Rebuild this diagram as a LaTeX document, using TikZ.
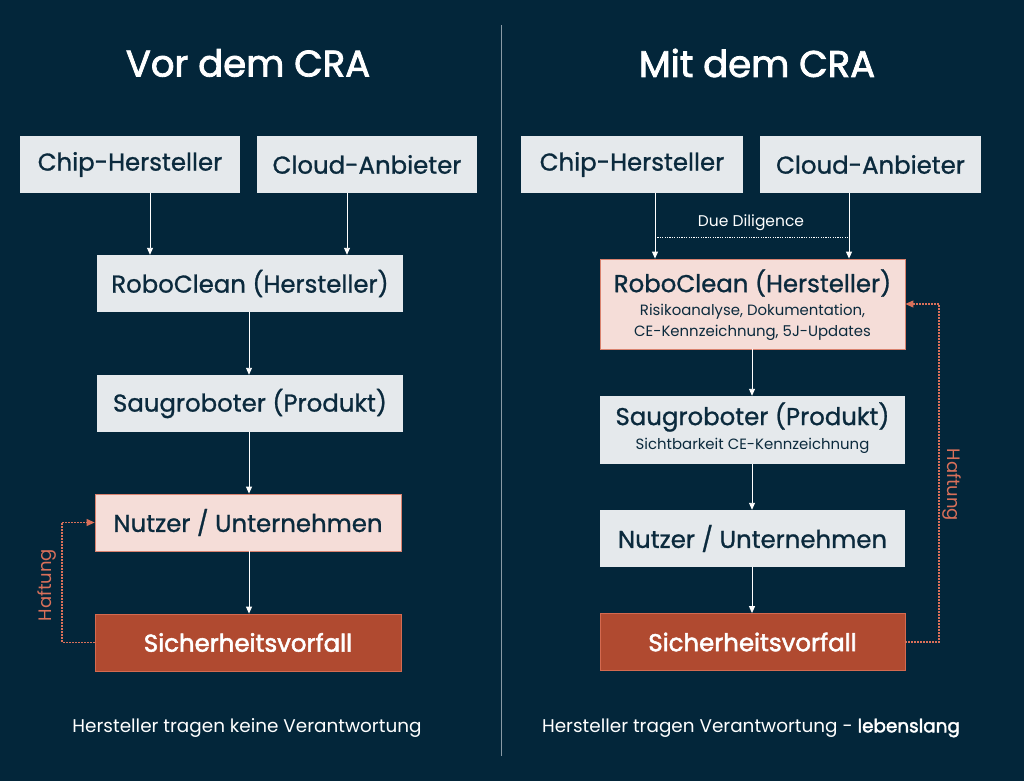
\documentclass[tikz,border=0pt]{standalone}
\usepackage{fontspec}
\setmainfont{Poppins}
\newfontfamily\medfont[FakeBold=1.0]{Poppins}
\newfontfamily\semifont[FakeBold=2.2]{Poppins}
\usetikzlibrary{arrows.meta}
\definecolor{bg}{HTML}{03263A}
\definecolor{ink}{HTML}{0B2A3D}
\definecolor{graybox}{HTML}{E5E9EC}
\definecolor{pinkbox}{HTML}{F5DDD8}
\definecolor{pinkline}{HTML}{D9826F}
\definecolor{redbox}{HTML}{B04A30}
\definecolor{redline}{HTML}{D46A50}
\definecolor{salmon}{HTML}{D9705A}
\definecolor{divider}{HTML}{8A9AA5}
\tikzset{
  box/.style={draw=none, fill=graybox, text=ink, minimum height=57pt, inner sep=0pt, font=\fontsize{24.4}{28}\medfont, align=center},
  pink/.style={box, fill=pinkbox, draw=pinkline, line width=0.8pt},
  red/.style={box, fill=redbox, draw=redline, line width=0.8pt, text=white, font=\fontsize{24.4}{28}\semifont},
  flow/.style={draw=white, line width=0.9pt, -{Triangle[length=7pt,width=6pt]}},
  haft/.style={draw=salmon, line width=1.1pt, dash pattern=on 2pt off 1pt, -{Triangle[length=8pt,width=7pt]}},
  title/.style={text=white, font=\fontsize{37}{40}\semifont},
  note/.style={text=white, font=\fontsize{18.4}{22}\selectfont},
  sub/.style={font=\fontsize{14.9}{21}\selectfont},
  bt/.style={text=ink, font=\fontsize{24.4}{28}\medfont},
  haftl/.style={text=salmon, font=\fontsize{18}{20}\selectfont},
}
\begin{document}
\begin{tikzpicture}[x=1pt,y=-1pt]
\fill[bg] (0,0) rectangle (1024,781);
\useasboundingbox (0,0) rectangle (1024,781);
\draw[divider, line width=0.8pt] (501,25) -- (501,756);

% ---------- left ----------
\node[title] (lt) at (248,63) {Vor dem CRA};
\node[box, minimum width=220pt] (lchip) at (130,164.5) {Chip-Hersteller};
\node[box, minimum width=220pt] (lcloud) at (367,164.5) {Cloud-Anbieter};
\node[box, minimum width=306pt] (lrobo) at (250,283.5) {RoboClean (Hersteller)};
\node[box, minimum width=306pt] (lsaug) at (250,403.5) {Saugroboter (Produkt)};
\node[pink, minimum width=306pt] (lnutz) at (248,522.5) {Nutzer / Unternehmen};
\node[red, minimum width=306pt] (lsich) at (248,642.5) {Sicherheitsvorfall};
\node[note] (lnote) at (247,728) {Hersteller tragen keine Verantwortung};

\draw[flow] (lchip.south -| 150,0) -- (lrobo.north -| 150,0);
\draw[flow] (lcloud.south -| 347,0) -- (lrobo.north -| 347,0);
\draw[flow] (lrobo.south -| 249,0) -- (lsaug.north -| 249,0);
\draw[flow] (lsaug.south -| 249,0) -- (lnutz.north -| 249,0);
\draw[flow] (lnutz.south -| 249,0) -- (lsich.north -| 249,0);
\coordinate (lh1) at (62,642.5);
\coordinate (lh2) at (62,522.5);
\draw[haft] (lsich.west) -- (lh1) -- (lh2) -- (lnutz.west);
\node[haftl, rotate=90] (lhl) at (47,585) {Haftung};

% ---------- right ----------
\node[title] (rt) at (757,63) {Mit dem CRA};
\node[box, minimum width=222pt] (rchip) at (632,164.5) {Chip-Hersteller};
\node[box, minimum width=221pt] (rcloud) at (870.5,164.5) {Cloud-Anbieter};
\node[pink, minimum width=305pt, minimum height=90pt] (rrobo) at (752.5,304) {};
\node[bt] (rrobot) at (752.5,283) {RoboClean (Hersteller)};
\node[text=ink, sub, align=center] (rrobos) at (752.5,322.5) {Risikoanalyse, Dokumentation,\\CE-Kennzeichnung, 5J-Updates};
\node[box, minimum width=305pt, minimum height=68pt] (rsaug) at (752.5,430) {};
\node[bt] (rsaugt) at (752.5,417) {Saugroboter (Produkt)};
\node[text=ink, sub] (rsaugs) at (752.5,446) {Sichtbarkeit CE-Kennzeichnung};
\node[box, minimum width=305pt] (rnutz) at (752.5,538.5) {Nutzer / Unternehmen};
\node[red, minimum width=305pt] (rsich) at (752.5,642) {Sicherheitsvorfall};
\node[note] (rnote) at (751,728) {Hersteller tragen Verantwortung - {\semifont lebenslang}};

\draw[flow] (rchip.south -| 655,0) -- (rrobo.north -| 655,0);
\draw[flow] (rcloud.south -| 849,0) -- (rrobo.north -| 849,0);
\coordinate (dd1) at (655,237);
\coordinate (dd2) at (849,237);
\draw[white, line width=0.8pt, dash pattern=on 1.2pt off 1.2pt] (dd1) -- (dd2);
\node[text=white, font=\fontsize{15.5}{18}\selectfont] (ddl) at (751,223) {Due Diligence};
\draw[flow] (rrobo.south -| 752,0) -- (rsaug.north -| 752,0);
\draw[flow] (rsaug.south -| 752,0) -- (rnutz.north -| 752,0);
\draw[flow] (rnutz.south -| 752,0) -- (rsich.north -| 752,0);
\coordinate (rh1) at (939,642);
\coordinate (rh2) at (939,304);
\draw[haft] (rsich.east) -- (rh1) -- (rh2) -- (rrobo.east);
\node[haftl, rotate=-90] (rhl) at (952,485) {Haftung};
\end{tikzpicture}
\end{document}
